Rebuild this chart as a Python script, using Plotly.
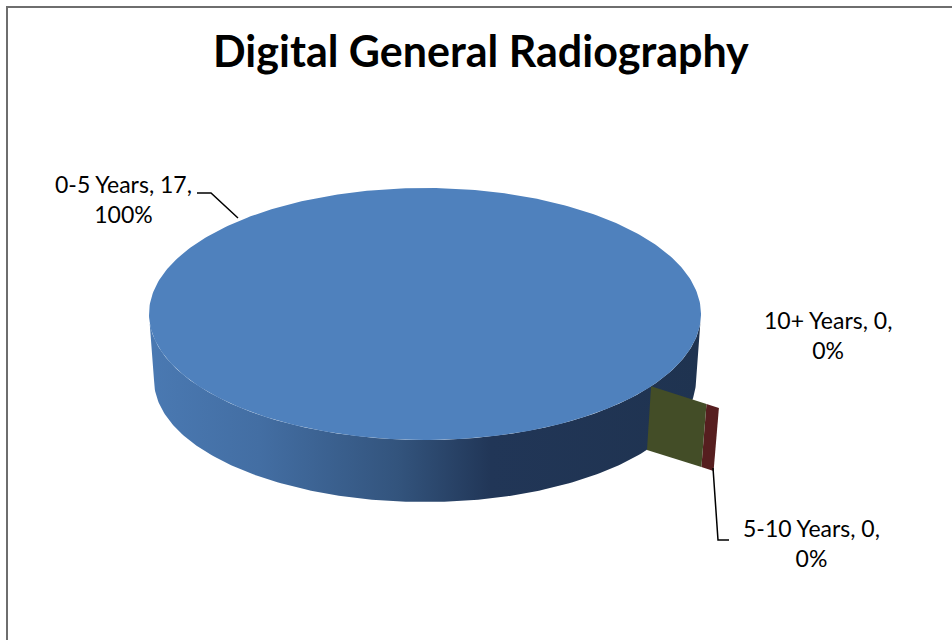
import numpy as np
import plotly.graph_objects as go

# ---- data ----
categories = ["0-5 Years", "5-10 Years", "10+ Years"]
counts = [17, 0, 0]
chart_title = "Digital General Radiography"

# ---- style / geometry (pixel space) ----
slice_colors = ["#4F81BD", "#561E1F", "#434D27"]
CX, CY, RX, RY = 425, 314, 276, 126        # top ellipse
BCY, BRX, BRY = 380, 271, 122              # bottom ellipse (perspective)
START_DEG = 35                             # rotation of first slice
face_radii = {1: (1.245, 1.30), 2: (1.0, 1.245)}   # exploded zero-slice faces
label_pos = [(123, 199), (811, 543), (828, 335)]
leaders = [[(197, 193), (211, 193), (238, 218)],
           [(713, 468), (718, 540), (729, 540)],
           None]

total = sum(counts)
bounds = START_DEG + 360 * np.concatenate([[0], np.cumsum(counts)]) / total


def top_pt(t, r=1.0):
    return CX + r * RX * np.cos(t), CY + r * RY * np.sin(t)


def bot_pt(t, r=1.0):
    return CX + r * BRX * np.cos(t), BCY + r * BRY * np.sin(t)


fig = go.Figure()

# side walls of non-zero slices (front half only)
for k, v in enumerate(counts):
    if v == 0:
        continue
    ts = np.linspace(0, np.pi, 200)
    if (bounds[k + 1] - bounds[k]) < 360:
        ts = ts[((np.degrees(ts) - bounds[k]) % 360) <= (bounds[k + 1] - bounds[k])]
    xt, yt = top_pt(ts)
    xb, yb = bot_pt(ts[::-1])
    fig.add_trace(go.Scatter(
        x=np.concatenate([xt, xb, xt[:1]]), y=np.concatenate([yt, yb, yt[:1]]),
        mode="lines", line=dict(width=0), fill="toself",
        fillgradient=dict(type="horizontal", colorscale=[
            [0, "#4A79B2"], [0.2, "#436EA3"], [0.45, "#33547D"],
            [0.62, "#213657"], [1, "#1F3350"]]),
        hoverinfo="skip", showlegend=False))

# exploded faces for zero slices
for k, v in enumerate(counts):
    if v != 0:
        continue
    t = np.radians(bounds[k + 1])
    r0, r1 = face_radii[k]
    p = [top_pt(t, r0), top_pt(t, r1), bot_pt(t, r1), bot_pt(t, r0), top_pt(t, r0)]
    fig.add_trace(go.Scatter(
        x=[q[0] for q in p], y=[q[1] for q in p], mode="lines",
        line=dict(width=0), fill="toself", fillcolor=slice_colors[k],
        hoverinfo="skip", showlegend=False))

# top faces of slices
for k, v in enumerate(counts):
    if v == 0:
        continue
    ts = np.radians(np.linspace(bounds[k], bounds[k + 1], 400))
    xt, yt = top_pt(ts)
    fig.add_trace(go.Scatter(
        x=np.concatenate([[CX], xt, [CX]]), y=np.concatenate([[CY], yt, [CY]]),
        mode="lines", line=dict(width=0), fill="toself",
        fillcolor=slice_colors[k], hoverinfo="skip", showlegend=False))

# leader lines
for ld in leaders:
    if ld is None:
        continue
    fig.add_trace(go.Scatter(x=[p[0] for p in ld], y=[p[1] for p in ld],
                             mode="lines", line=dict(color="black", width=1.5),
                             hoverinfo="skip", showlegend=False))

annotations = []
for k, (cat, v) in enumerate(zip(categories, counts)):
    pct = round(100 * v / total)
    x, y = label_pos[k]
    annotations.append(dict(x=x, y=y, xref="x", yref="y",
                            text=f"{cat}, {v},<br>{pct}%", showarrow=False,
                            align="center",
                            font=dict(family="Lato", size=23, color="black")))
annotations.append(dict(x=481, y=50, xref="x", yref="y", text=f"<b>{chart_title}</b>",
                        showarrow=False,
                        font=dict(family="Lato", size=43, color="black")))

fig.update_layout(
    width=952, height=640, margin=dict(l=0, r=0, t=0, b=0),
    paper_bgcolor="white", plot_bgcolor="white",
    xaxis=dict(range=[0, 952], visible=False, fixedrange=True),
    yaxis=dict(range=[640, 0], visible=False, fixedrange=True),
    annotations=annotations,
    shapes=[dict(type="rect", xref="x", yref="y", x0=7, y0=7, x1=1000, y1=700,
                 line=dict(color="#6E6E6E", width=2))],
    showlegend=False,
)

fig.write_html("out.html", config={"displayModeBar": False},
               post_script="document.body.style.margin='0';document.body.style.overflow='hidden';")
